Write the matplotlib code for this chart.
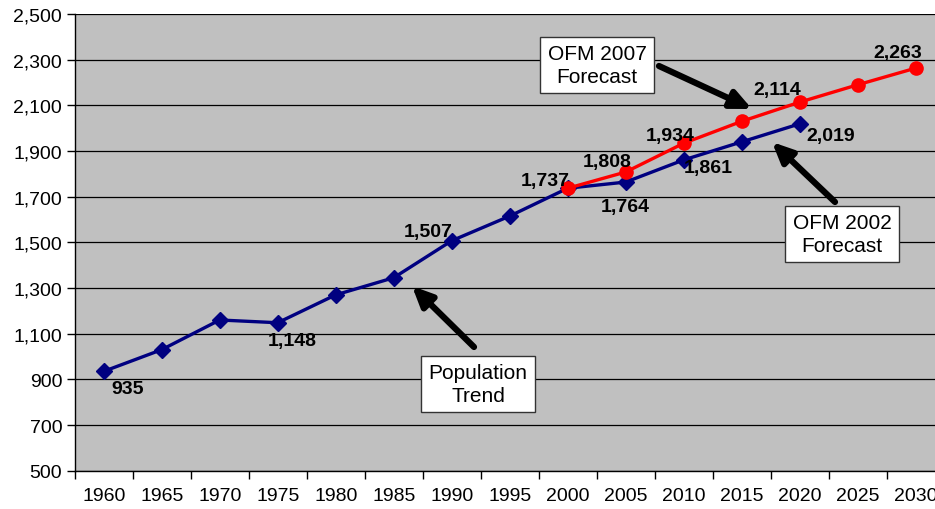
import numpy as np
import matplotlib
matplotlib.use("Agg")
import matplotlib.pyplot as plt
from matplotlib.ticker import FuncFormatter

plt.rcParams['font.family'] = ['Liberation Sans', 'DejaVu Sans']

# Data
years = ['1960', '1965', '1970', '1975', '1980', '1985', '1990', '1995',
         '2000', '2005', '2010', '2015', '2020', '2025', '2030']
trend = [935, 1030, 1160, 1148, 1270, 1345, 1507, 1615,
         1737, 1764, 1861, 1940, 2019]
forecast_2007 = [1737, 1808, 1934, 2030, 2114, 2190, 2263]
forecast_start = 8  # index of 2000

# labelled points: (index into series, pixel offset)
trend_labels = {0: (24, -17), 3: (15, -18), 6: (-24, 9), 8: (-22, 8),
                9: (0, -24), 10: (25, -8), 12: (31, -12)}
fc_labels = {1: (-19, 11), 2: (-14, 8), 4: (-22, 13), 6: (-18, 16)}

fig = plt.figure(figsize=(9.35, 5.1), dpi=100)
ax = fig.add_axes([74.7 / 935, 1 - 471.7 / 510, 870 / 935, (471.7 - 15) / 510])
ax.set_facecolor('#C0C0C0')

x_trend = np.arange(len(trend))
x_fc = np.arange(len(forecast_2007)) + forecast_start

ax.plot(x_trend, trend, color='#000080', lw=2.4, marker='D', ms=8,
        zorder=3, clip_on=False)
ax.plot(x_fc, forecast_2007, color='#FF0000', lw=2.4, marker='o', ms=9.5,
        zorder=4, clip_on=False)

for i, off in trend_labels.items():
    ax.annotate(f"{trend[i]:,}", (x_trend[i], trend[i]), xytext=off,
                textcoords='offset pixels', ha='center', va='center',
                fontsize=14, fontweight='bold', zorder=6)
for i, off in fc_labels.items():
    ax.annotate(f"{forecast_2007[i]:,}", (x_fc[i], forecast_2007[i]), xytext=off,
                textcoords='offset pixels', ha='center', va='center',
                fontsize=14, fontweight='bold', zorder=6)

# axes
ax.set_xlim(-0.5, len(years) - 0.5)
ax.set_ylim(500, 2500)
ax.set_yticks(np.arange(500, 2501, 200))
ax.yaxis.set_major_formatter(FuncFormatter(lambda v, p: f"{int(v):,}"))
ax.set_xticks(np.arange(len(years) + 1) - 0.5)
ax.set_xticklabels([])
ax.set_xticks(np.arange(len(years)), minor=True)
ax.set_xticklabels(years, minor=True)
ax.tick_params(axis='x', which='minor', length=0, pad=12, labelsize=14)
ax.tick_params(axis='x', which='major', length=6, width=1, direction='out')
ax.tick_params(axis='y', length=6, width=1, direction='out', labelsize=14, pad=3)
ax.grid(axis='y', color='black', lw=0.9)
ax.set_axisbelow(True)
for s in ['top', 'right']:
    ax.spines[s].set_visible(False)
for s in ['left', 'bottom']:
    ax.spines[s].set_color('black')
    ax.spines[s].set_linewidth(1)


# callouts, positions in pixel coords of the figure
def px(x, y):
    return (x / 935, 1 - y / 510)


box = dict(boxstyle='square,pad=0.35', fc='white', ec='#333333', lw=1)
callouts = [("OFM 2007\nForecast", (597, 66), (659, 67), (752, 110)),
            ("OFM 2002\nForecast", (842, 235), (835, 203), (772, 143)),
            ("Population\nTrend", (478, 385), (474, 348), (412, 287))]
for txt, c, tail, head in callouts:
    fig.text(*px(*c), txt, ha='center', va='center', fontsize=15,
             linespacing=1.25, bbox=box, zorder=7)
    ax.annotate('', xy=px(*head), xytext=px(*tail), xycoords='figure fraction',
                textcoords='figure fraction',
                arrowprops=dict(arrowstyle='-|>,head_length=1.2,head_width=0.55',
                                color='black', lw=4.5, shrinkA=0, shrinkB=0),
                zorder=7)

fig.savefig('out.png', dpi=100)
